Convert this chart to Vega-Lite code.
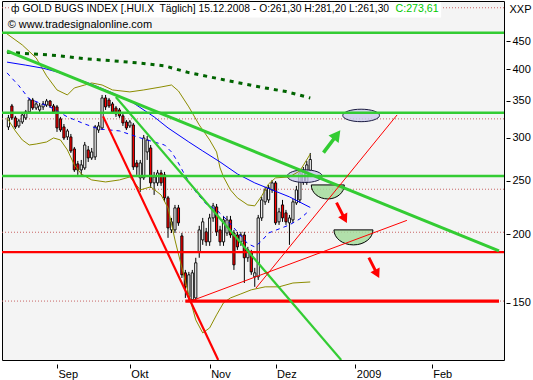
{
 "$schema": "https://vega.github.io/schema/vega-lite/v6.json",
 "width": 502,
 "height": 359,
 "autosize": {"type": "none"},
 "padding": {"left": 2, "top": 1, "right": 29, "bottom": 20},
 "background": "#ffffff",
 "config": {
  "view": {"fill": "#f4f4f4", "stroke": "#000000", "strokeWidth": 1},
  "font": "Liberation Sans"
 },
 "datasets": {
  "grid": [{"v": 517.4}, {"v": 324.5}, {"v": 241.5}, {"v": 201.6}, {"v": 151.0}],
  "candles": [
   {"i":-14,"o":313.7,"h":329.9,"l":309.7,"c":325.8},
   {"i":-13,"o":342.6,"h":345.5,"l":323.0,"c":325.8},
   {"i":-12,"o":325.8,"h":328.6,"l":311.1,"c":313.7},
   {"i":-11,"o":315.0,"h":324.5,"l":312.4,"c":321.7},
   {"i":-10,"o":320.3,"h":332.7,"l":317.6,"c":329.9},
   {"i":-9,"o":325.8,"h":336.9,"l":323.0,"c":334.1},
   {"i":-8,"o":334.1,"h":354.3,"l":332.7,"c":351.3},
   {"i":-7,"o":351.3,"h":354.3,"l":336.9,"c":339.7},
   {"i":-6,"o":339.7,"h":348.4,"l":336.9,"c":345.5},
   {"i":-5,"o":336.9,"h":346.9,"l":334.1,"c":342.6},
   {"i":-4,"o":341.2,"h":349.8,"l":336.9,"c":345.5},
   {"i":-3,"o":344.0,"h":352.8,"l":341.2,"c":349.8},
   {"i":-2,"o":349.8,"h":351.3,"l":339.7,"c":342.6},
   {"i":-1,"o":342.6,"h":345.5,"l":331.3,"c":334.1},
   {"i":0,"o":341.2,"h":344.0,"l":307.2,"c":312.4},
   {"i":1,"o":324.5,"h":327.2,"l":307.2,"c":309.7},
   {"i":2,"o":313.7,"h":317.6,"l":297.0,"c":299.5},
   {"i":3,"o":300.8,"h":311.1,"l":297.0,"c":308.5},
   {"i":4,"o":300.8,"h":304.6,"l":281.2,"c":283.6},
   {"i":5,"o":286.0,"h":288.4,"l":259.7,"c":261.9},
   {"i":6,"o":268.6,"h":272.0,"l":256.5,"c":261.9},
   {"i":7,"o":261.9,"h":273.1,"l":254.3,"c":267.5},
   {"i":8,"o":264.1,"h":294.5,"l":261.9,"c":290.8},
   {"i":9,"o":284.8,"h":289.6,"l":270.8,"c":275.4},
   {"i":10,"o":275.4,"h":287.2,"l":273.1,"c":282.4},
   {"i":11,"o":276.6,"h":316.3,"l":273.1,"c":313.7},
   {"i":12,"o":309.7,"h":320.3,"l":305.9,"c":315.0},
   {"i":13,"o":312.4,"h":358.8,"l":309.7,"c":354.3},
   {"i":14,"o":354.3,"h":358.8,"l":336.9,"c":341.2},
   {"i":15,"o":351.3,"h":354.3,"l":339.7,"c":342.6},
   {"i":16,"o":345.5,"h":348.4,"l":331.3,"c":334.1},
   {"i":17,"o":339.7,"h":342.6,"l":327.2,"c":331.3},
   {"i":18,"o":336.9,"h":339.7,"l":325.8,"c":328.6},
   {"i":19,"o":328.6,"h":331.3,"l":315.0,"c":319.0},
   {"i":20,"o":320.3,"h":323.0,"l":309.7,"c":312.4},
   {"i":21,"o":315.0,"h":323.0,"l":312.4,"c":320.3},
   {"i":22,"o":316.3,"h":319.0,"l":261.9,"c":265.2},
   {"i":23,"o":269.7,"h":273.1,"l":256.5,"c":265.2},
   {"i":24,"o":253.3,"h":273.1,"l":238.8,"c":269.7},
   {"i":25,"o":253.3,"h":303.3,"l":251.1,"c":299.5},
   {"i":26,"o":282.4,"h":302.0,"l":273.1,"c":297.0},
   {"i":27,"o":287.2,"h":290.8,"l":242.9,"c":248.0},
   {"i":28,"o":248.0,"h":259.7,"l":235.8,"c":254.3},
   {"i":29,"o":248.0,"h":261.9,"l":244.9,"c":258.6},
   {"i":30,"o":258.6,"h":261.9,"l":244.9,"c":248.0},
   {"i":31,"o":256.5,"h":259.7,"l":229.0,"c":232.9},
   {"i":32,"o":232.9,"h":234.8,"l":196.9,"c":205.3},
   {"i":33,"o":203.6,"h":214.1,"l":201.0,"c":210.6},
   {"i":34,"o":203.6,"h":226.1,"l":201.0,"c":223.3},
   {"i":35,"o":223.3,"h":226.1,"l":207.1,"c":209.7},
   {"i":36,"o":198.5,"h":201.0,"l":166.4,"c":168.6},
   {"i":37,"o":170.0,"h":172.1,"l":153.0,"c":160.3},
   {"i":38,"o":153.7,"h":170.7,"l":151.8,"c":168.6},
   {"i":39,"o":151.8,"h":172.1,"l":150.5,"c":170.0},
   {"i":40,"o":153.0,"h":181.1,"l":150.5,"c":177.3},
   {"i":41,"o":185.7,"h":207.1,"l":181.1,"c":203.6},
   {"i":42,"o":195.2,"h":214.1,"l":191.2,"c":210.6},
   {"i":43,"o":201.9,"h":205.3,"l":190.4,"c":193.6},
   {"i":44,"o":193.6,"h":217.8,"l":190.4,"c":214.1},
   {"i":45,"o":214.1,"h":228.0,"l":210.6,"c":225.2},
   {"i":46,"o":224.2,"h":227.0,"l":198.5,"c":201.9},
   {"i":47,"o":203.6,"h":207.1,"l":190.4,"c":193.6},
   {"i":48,"o":193.6,"h":215.9,"l":190.4,"c":212.3},
   {"i":49,"o":201.0,"h":215.9,"l":198.5,"c":212.3},
   {"i":50,"o":212.3,"h":215.9,"l":196.9,"c":199.3},
   {"i":51,"o":201.0,"h":203.6,"l":172.1,"c":175.8},
   {"i":52,"o":199.3,"h":201.9,"l":187.2,"c":189.6},
   {"i":53,"o":193.6,"h":201.9,"l":190.4,"c":199.3},
   {"i":54,"o":199.3,"h":201.9,"l":162.9,"c":181.1},
   {"i":55,"o":181.1,"h":189.6,"l":178.0,"c":187.2},
   {"i":56,"o":184.9,"h":187.2,"l":168.6,"c":170.7},
   {"i":57,"o":167.2,"h":173.6,"l":160.3,"c":170.0},
   {"i":58,"o":167.2,"h":216.8,"l":165.0,"c":214.1},
   {"i":59,"o":214.1,"h":233.9,"l":211.4,"c":230.9},
   {"i":60,"o":229.0,"h":243.9,"l":226.1,"c":240.8},
   {"i":61,"o":230.9,"h":245.9,"l":228.0,"c":242.9},
   {"i":62,"o":240.8,"h":251.1,"l":237.8,"c":248.0},
   {"i":63,"o":248.0,"h":250.0,"l":207.9,"c":209.7},
   {"i":64,"o":210.6,"h":223.3,"l":207.9,"c":219.6},
   {"i":65,"o":226.1,"h":230.9,"l":210.6,"c":214.1},
   {"i":66,"o":218.7,"h":221.4,"l":207.9,"c":210.6},
   {"i":67,"o":209.7,"h":216.8,"l":191.2,"c":214.1},
   {"i":68,"o":212.3,"h":231.9,"l":209.7,"c":229.0},
   {"i":69,"o":228.0,"h":244.9,"l":226.1,"c":240.8},
   {"i":70,"o":230.9,"h":261.9,"l":228.0,"c":258.6},
   {"i":71,"o":249.0,"h":265.2,"l":246.0,"c":261.9},
   {"i":72,"o":249.0,"h":272.0,"l":246.0,"c":267.5},
   {"i":73,"o":261.3,"h":281.2,"l":261.3,"c":273.61}
  ],
  "ma1": [
   {"i":-14.4,"v":411.8},{"i":-9,"v":406.6},{"i":-4,"v":401.4},{"i":0,"v":395.2},{"i":4,"v":387.1},
   {"i":10,"v":375.3},{"i":16,"v":361.8},{"i":22,"v":346.9},{"i":28,"v":327.2},{"i":32,"v":312.4},
   {"i":38,"v":294.5},{"i":42,"v":283.6},{"i":47,"v":270.8},{"i":52,"v":257.5},{"i":57,"v":248.0},
   {"i":62,"v":240.8},{"i":67,"v":233.9},{"i":73,"v":223.7}
  ],
  "ma2": [
   {"i":-14.4,"v":393.6},{"i":-11,"v":373.0},{"i":-8,"v":352.8},{"i":-2,"v":341.2},{"i":3,"v":327.2},
   {"i":8,"v":317.6},{"i":12,"v":311.1},{"i":18,"v":308.5},{"i":25,"v":298.2},{"i":31,"v":290.8},
   {"i":33,"v":282.4},{"i":35,"v":269.7},{"i":37,"v":255.4},{"i":40,"v":238.8},{"i":43,"v":227.0},
   {"i":46,"v":221.4},{"i":49,"v":212.3},{"i":52,"v":201.9},{"i":55,"v":192.0},{"i":57,"v":189.6},
   {"i":59,"v":194.4},{"i":61,"v":201.0},{"i":64,"v":204.4},{"i":67,"v":207.9},{"i":70,"v":213.2},
   {"i":72,"v":218.7}
  ],
  "bb": [
   {"b":"u","i":-14.4,"v":463.6},{"b":"u","i":-10,"v":442.6},{"b":"u","i":-6,"v":419.1},{"b":"u","i":-3,"v":388.7},
   {"b":"u","i":0,"v":366.4},{"b":"u","i":3,"v":358.8},{"b":"u","i":5,"v":369.5},{"b":"u","i":8,"v":374.1},
   {"b":"u","i":10,"v":377.3},{"b":"u","i":13,"v":374.1},{"b":"u","i":16,"v":366.4},{"b":"u","i":21,"v":363.4},
   {"b":"u","i":25,"v":366.4},{"b":"u","i":30,"v":371.0},{"b":"u","i":33,"v":374.1},{"b":"u","i":35,"v":364.9},
   {"b":"u","i":38,"v":341.2},{"b":"u","i":41,"v":316.3},{"b":"u","i":44,"v":297.0},{"b":"u","i":46,"v":282.4},
   {"b":"u","i":47,"v":264.1},{"b":"u","i":48,"v":254.3},{"b":"u","i":50,"v":240.8},{"b":"u","i":52,"v":232.9},
   {"b":"u","i":55,"v":226.1},{"b":"u","i":57,"v":225.2},{"b":"u","i":59,"v":234.8},{"b":"u","i":61,"v":247.0},
   {"b":"u","i":63,"v":253.3},{"b":"u","i":67,"v":254.3},{"b":"u","i":70,"v":260.8},{"b":"u","i":73,"v":280.0},
   {"b":"l","i":-14.4,"v":325.8},{"b":"l","i":-12,"v":308.5},{"b":"l","i":-10,"v":297.0},{"b":"l","i":-8,"v":290.8},
   {"b":"l","i":-6,"v":292.0},{"b":"l","i":-3,"v":294.5},{"b":"l","i":-1,"v":299.5},{"b":"l","i":1,"v":297.0},
   {"b":"l","i":3,"v":284.8},{"b":"l","i":5,"v":267.5},{"b":"l","i":7,"v":257.5},{"b":"l","i":10,"v":251.1},
   {"b":"l","i":14,"v":249.0},{"b":"l","i":18,"v":251.1},{"b":"l","i":21,"v":254.3},{"b":"l","i":24,"v":240.8},
   {"b":"l","i":27,"v":243.9},{"b":"l","i":30,"v":235.8},{"b":"l","i":32,"v":223.3},{"b":"l","i":34,"v":195.2},
   {"b":"l","i":36,"v":173.6},{"b":"l","i":38,"v":155.0},{"b":"l","i":40,"v":139.5},{"b":"l","i":42,"v":132.1},
   {"b":"l","i":44,"v":134.9},{"b":"l","i":46,"v":142.5},{"b":"l","i":48,"v":149.9},{"b":"l","i":50,"v":153.0},
   {"b":"l","i":53,"v":155.6},{"b":"l","i":56,"v":158.3},{"b":"l","i":60,"v":160.3},{"b":"l","i":64,"v":160.3},
   {"b":"l","i":68,"v":162.9},{"b":"l","i":73,"v":163.6}
  ],
  "ma200": [
   {"i":-14.4,"v":429.3},{"i":0,"v":423.4},{"i":8,"v":417.7},{"i":16,"v":414.2},{"i":24,"v":410.1},
   {"i":31,"v":405.4},{"i":38,"v":394.0},{"i":46,"v":384.8},{"i":53,"v":376.9},{"i":60,"v":369.5},
   {"i":66,"v":363.9},{"i":73,"v":354.3}
  ],
  "hgreen": [{"v": 466.1}, {"v": 333.1}, {"v": 255.4}],
  "hred": [{"v": 185.5}],
  "hredthick": [{"i": 37.0, "i2": 127.4, "v": 151.0, "v2": 151.0}],
  "redthick": [{"i": 13.28, "v": 327.9, "i2": 46.47, "v2": 117.9}],
  "redthin": [
   {"i": 38.70, "v": 151.1, "i2": 100.85, "v2": 211.9},
   {"i": 57.34, "v": 159.4, "i2": 98.02, "v2": 329.9}
  ],
  "greenlong": [{"i": -14.41, "v": 431.6, "i2": 127.4, "v2": 186.4}],
  "greensteep": [{"i": 16.95, "v": 355.8, "i2": 81.92, "v2": 117.9}]
 },
 "layer": [
  {
   "data": {"name": "grid"},
   "mark": {"type": "rule", "color": "#c86464", "strokeWidth": 1, "strokeDash": [1, 2]},
   "encoding": {
    "y": {
     "field": "v", "type": "quantitative",
     "scale": {"type": "log", "domain": [117.9, 532.3], "nice": false, "zero": false},
     "axis": {
      "orient": "right", "values": [150, 200, 250, 300, 350, 400, 450],
      "grid": false, "domain": false, "ticks": true, "tickSize": 4, "tickColor": "#000000",
      "offset": 2, "labelPadding": 2, "labelFontSize": 11, "labelColor": "#000000",
      "labelFont": "Liberation Sans",
      "title": "XXP", "titleAngle": 0, "titleAlign": "left", "titleBaseline": "middle",
      "titleX": 3, "titleY": 8, "titleFontSize": 11, "titleFontWeight": "normal",
      "titleFont": "Liberation Sans", "titleColor": "#000000"
     }
    }
   }
  },
  {
   "data": {"name": "candles"},
   "mark": {"type": "rule", "color": "#000000", "strokeWidth": 1},
   "encoding": {
    "x": {
     "field": "i", "type": "quantitative",
     "scale": {"domain": [-14.41, 127.4], "nice": false, "zero": false},
     "axis": {
      "orient": "bottom", "values": [0, 21, 44, 63, 86, 108],
      "labelExpr": "datum.value == 0 ? 'Sep' : datum.value == 21 ? 'Okt' : datum.value == 44 ? 'Nov' : datum.value == 63 ? 'Dez' : datum.value == 86 ? '2009' : 'Feb'",
      "grid": false, "domain": false, "tickSize": 4, "tickColor": "#000000", "offset": 4,
      "labelAlign": "left", "labelOffset": 1, "labelPadding": 0, "labelFontSize": 11,
      "labelColor": "#000000", "labelFont": "Liberation Sans", "labelFlush": false, "title": null
     }
    },
    "y": {"field": "l", "type": "quantitative"},
    "y2": {"field": "h"}
   }
  },
  {
   "data": {"name": "candles"},
   "mark": {"type": "bar", "size": 2.2, "stroke": "#000000", "strokeWidth": 0.9},
   "encoding": {
    "x": {"field": "i", "type": "quantitative"},
    "y": {"field": "o", "type": "quantitative"},
    "y2": {"field": "c"},
    "fill": {"condition": {"test": "datum.c >= datum.o", "value": "#ffffff"}, "value": "#ff0000"}
   }
  },
  {
   "data": {"values": [{"i": 71.41, "v": 255.1}]},
   "mark": {"type": "point", "shape": "M-1,0A1,0.363,0,1,0,1,0A1,0.363,0,1,0,-1,0Z", "size": 1225, "filled": true, "fill": "#c8c8ec", "fillOpacity": 0.75, "stroke": "#1a1a40", "strokeWidth": 1, "opacity": 1},
   "encoding": {"x": {"field": "i", "type": "quantitative"}, "y": {"field": "v", "type": "quantitative"}}
  },
  {
   "data": {"values": [{"i": 87.66, "v": 329.2}]},
   "mark": {"type": "point", "shape": "M-1,0A1,0.34,0,1,0,1,0A1,0.34,0,1,0,-1,0Z", "size": 1347, "filled": true, "fill": "#c8c8ec", "fillOpacity": 0.75, "stroke": "#1a1a40", "strokeWidth": 1, "opacity": 1},
   "encoding": {"x": {"field": "i", "type": "quantitative"}, "y": {"field": "v", "type": "quantitative"}}
  },
  {
   "data": {"values": [{"i": 78.05, "v": 245.9}]},
   "mark": {"type": "point", "shape": "M-1,0A1,0.85,0,0,0,1,0Z", "size": 1089, "filled": true, "fill": "#a4dc9c", "fillOpacity": 0.85, "stroke": "#000000", "strokeWidth": 1, "opacity": 1},
   "encoding": {"x": {"field": "i", "type": "quantitative"}, "y": {"field": "v", "type": "quantitative"}}
  },
  {
   "data": {"values": [{"i": 85.45, "v": 203.6}]},
   "mark": {"type": "point", "shape": "M-1,0A1,0.77,0,0,0,1,0Z", "size": 1521, "filled": true, "fill": "#a4dc9c", "fillOpacity": 0.85, "stroke": "#000000", "strokeWidth": 1, "opacity": 1},
   "encoding": {"x": {"field": "i", "type": "quantitative"}, "y": {"field": "v", "type": "quantitative"}}
  },
  {
   "data": {"name": "bb"},
   "mark": {"type": "line", "color": "#8c8c00", "strokeWidth": 1, "clip": true},
   "encoding": {"x": {"field": "i", "type": "quantitative"}, "y": {"field": "v", "type": "quantitative"}, "detail": {"field": "b"}}
  },
  {
   "data": {"name": "ma2"},
   "mark": {"type": "line", "color": "#0000ff", "strokeWidth": 1, "strokeDash": [4, 4], "clip": true},
   "encoding": {"x": {"field": "i", "type": "quantitative"}, "y": {"field": "v", "type": "quantitative"}}
  },
  {
   "data": {"name": "ma1"},
   "mark": {"type": "line", "color": "#0000ff", "strokeWidth": 1, "clip": true},
   "encoding": {"x": {"field": "i", "type": "quantitative"}, "y": {"field": "v", "type": "quantitative"}}
  },
  {
   "data": {"name": "ma200"},
   "mark": {"type": "line", "color": "#006400", "strokeWidth": 3, "strokeDash": [4, 5], "clip": true},
   "encoding": {"x": {"field": "i", "type": "quantitative"}, "y": {"field": "v", "type": "quantitative"}}
  },
  {
   "data": {"name": "hgreen"},
   "mark": {"type": "rule", "color": "#33cc33", "strokeWidth": 2.5},
   "encoding": {"y": {"field": "v", "type": "quantitative"}}
  },
  {
   "data": {"name": "hred"},
   "mark": {"type": "rule", "color": "#ff0000", "strokeWidth": 2.3},
   "encoding": {"y": {"field": "v", "type": "quantitative"}}
  },
  {
   "data": {"name": "hredthick"},
   "mark": {"type": "rule", "color": "#ff0000", "strokeWidth": 3.2, "clip": true},
   "encoding": {"x": {"field": "i", "type": "quantitative"}, "x2": {"field": "i2"}, "y": {"field": "v", "type": "quantitative"}, "y2": {"field": "v2"}}
  },
  {
   "data": {"name": "greenlong"},
   "mark": {"type": "rule", "color": "#33cc33", "strokeWidth": 3, "clip": true},
   "encoding": {"x": {"field": "i", "type": "quantitative"}, "x2": {"field": "i2"}, "y": {"field": "v", "type": "quantitative"}, "y2": {"field": "v2"}}
  },
  {
   "data": {"name": "greensteep"},
   "mark": {"type": "rule", "color": "#33cc33", "strokeWidth": 2.2, "clip": true},
   "encoding": {"x": {"field": "i", "type": "quantitative"}, "x2": {"field": "i2"}, "y": {"field": "v", "type": "quantitative"}, "y2": {"field": "v2"}}
  },
  {
   "data": {"name": "redthick"},
   "mark": {"type": "rule", "color": "#ff0000", "strokeWidth": 2.2, "clip": true},
   "encoding": {"x": {"field": "i", "type": "quantitative"}, "x2": {"field": "i2"}, "y": {"field": "v", "type": "quantitative"}, "y2": {"field": "v2"}}
  },
  {
   "data": {"name": "redthin"},
   "mark": {"type": "rule", "color": "#ff0000", "strokeWidth": 1, "clip": true},
   "encoding": {"x": {"field": "i", "type": "quantitative"}, "x2": {"field": "i2"}, "y": {"field": "v", "type": "quantitative"}, "y2": {"field": "v2"}}
  },
  {
   "data": {"values": [{"i": 79.24, "v": 295.1}]},
   "mark": {"type": "point", "shape": "M-0.13,1L-0.13,-0.2L-0.45,-0.2L0,-1L0.45,-0.2L0.13,-0.2L0.13,1Z", "size": 784, "angle": 37, "filled": true, "fill": "#33cc33", "strokeWidth": 0, "opacity": 1},
   "encoding": {"x": {"field": "i", "type": "quantitative"}, "y": {"field": "v", "type": "quantitative"}}
  },
  {
   "data": {"values": [{"i": 82.06, "v": 218.7}, {"i": 91.38, "v": 173.6}]},
   "mark": {"type": "point", "shape": "M-0.13,1L-0.13,-0.2L-0.45,-0.2L0,-1L0.45,-0.2L0.13,-0.2L0.13,1Z", "size": 520, "angle": 153, "filled": true, "fill": "#ff0000", "strokeWidth": 0, "opacity": 1},
   "encoding": {"x": {"field": "i", "type": "quantitative"}, "y": {"field": "v", "type": "quantitative"}}
  },
  {
   "data": {"values": [{"i": -13.56, "i2": 110.73, "v": 530.1, "v2": 496.7}]},
   "mark": {"type": "rect", "fill": "#ffffff"},
   "encoding": {"x": {"field": "i", "type": "quantitative"}, "x2": {"field": "i2"}, "y": {"field": "v", "type": "quantitative"}, "y2": {"field": "v2"}}
  },
  {
   "data": {"values": [
    {"t": "ф", "i": -13.28, "v": 513.7},
    {"t": "GOLD BUGS INDEX [.HUI.X\u00a0 Täglich] 15.12.2008 - O:261,30 H:281,20 L:261,30", "i": -9.97, "v": 513.7}
   ]},
   "mark": {"type": "text", "align": "left", "baseline": "middle", "fontSize": 10.3, "font": "Liberation Sans", "color": "#000000"},
   "encoding": {"x": {"field": "i", "type": "quantitative"}, "y": {"field": "v", "type": "quantitative"}, "text": {"field": "t"}}
  },
  {
   "data": {"values": [
    {"t": "© www.tradesignalonline.com", "i": -14.21, "v": 481.3}
   ]},
   "mark": {"type": "text", "align": "left", "baseline": "middle", "fontSize": 11, "font": "Liberation Sans", "color": "#000000"},
   "encoding": {"x": {"field": "i", "type": "quantitative"}, "y": {"field": "v", "type": "quantitative"}, "text": {"field": "t"}}
  },
  {
   "data": {"values": [{"t": "C:273,61", "i": 97.6, "v": 513.7}]},
   "mark": {"type": "text", "align": "left", "baseline": "middle", "fontSize": 10.6, "font": "Liberation Sans", "color": "#00c800"},
   "encoding": {"x": {"field": "i", "type": "quantitative"}, "y": {"field": "v", "type": "quantitative"}, "text": {"field": "t"}}
  }
 ]
}
